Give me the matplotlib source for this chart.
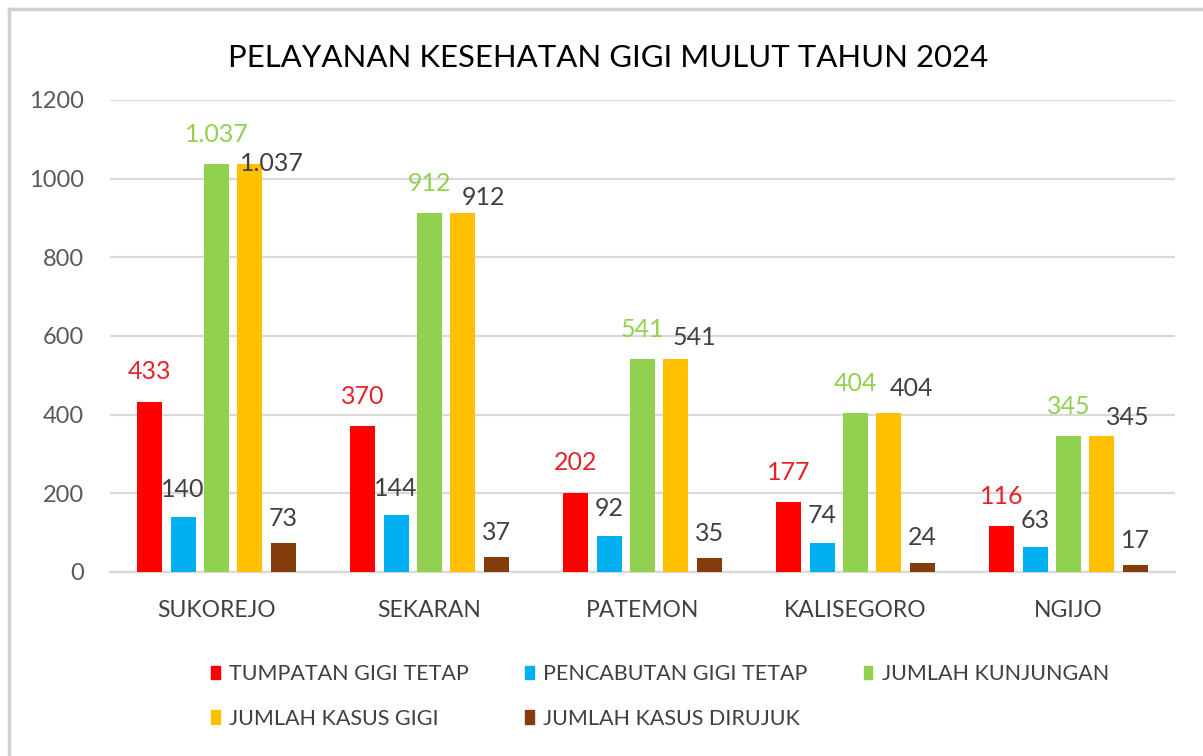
import matplotlib
matplotlib.use("Agg")
import matplotlib.pyplot as plt
import numpy as np
from matplotlib.patches import Rectangle
from matplotlib.lines import Line2D

categories = ["SUKOREJO", "SEKARAN", "PATEMON", "KALISEGORO", "NGIJO"]
series_names = ["TUMPATAN GIGI TETAP", "PENCABUTAN GIGI TETAP", "JUMLAH KUNJUNGAN",
                "JUMLAH KASUS GIGI", "JUMLAH KASUS DIRUJUK"]
tumpatan = [433, 370, 202, 177, 116]
pencabutan = [140, 144, 92, 74, 63]
kunjungan = [1037, 912, 541, 404, 345]
kasus_gigi = [1037, 912, 541, 404, 345]
dirujuk = [73, 37, 35, 24, 17]
yticks = [0, 200, 400, 600, 800, 1000, 1200]
title = "PELAYANAN KESEHATAN GIGI MULUT TAHUN 2024"

colors = ["#FF0000", "#00B0F0", "#92D050", "#FFC000", "#843C0C"]
label_colors = ["#E5232B", "#404040", "#92D050", "#404040", "#404040"]
# label offsets in pixels (style): per series, with per-category tweaks for yellow labels
label_dx = [[0]*5, [0]*5, [0]*5, [22, 21, 19, 23, 26], [0]*5]
label_dy = [[30]*5, [27]*5, [30]*5, [1, 16, 22, 25, 19], [25]*5]

def fmt(v):
    return f"{v:,}".replace(",", ".")

plt.rcParams['font.family'] = ['Lato', 'DejaVu Sans']
fig = plt.figure(figsize=(12.03, 7.56), dpi=100)
ax = fig.add_axes([110/1203, 1-572/756, (1175-110)/1203, (572-100)/756])

data = [tumpatan, pencabutan, kunjungan, kasus_gigi, dirujuk]
x = np.arange(len(categories))
pitch = 33/211
width = 25/211
pt = 72/100
for i, (vals, c) in enumerate(zip(data, colors)):
    xs = x + (i - 2) * pitch
    ax.bar(xs, vals, width=width, color=c, zorder=3, label=series_names[i])
    for j, (xi, v) in enumerate(zip(xs, vals)):
        ax.annotate(fmt(v), (xi, v), xytext=(label_dx[i][j]*pt, label_dy[i][j]*pt),
                    textcoords="offset points", ha="center", va="center",
                    fontsize=18, color=label_colors[i], zorder=4)

ax.set_xlim(-0.5, len(categories) - 0.5)
ax.set_ylim(0, 1200)
ax.set_yticks(yticks)
ax.set_yticklabels([str(t) for t in yticks])
ax.set_xticks(x)
ax.set_xticklabels(categories)
ax.tick_params(axis='y', length=0, pad=18.5, labelsize=17, labelcolor="#595959")
ax.tick_params(axis='x', length=0, pad=20, labelsize=16.5, labelcolor="#404040")
ax.grid(axis='y', color="#D9D9D9", linewidth=1.6, zorder=0)
for s in ["top", "right", "left"]:
    ax.spines[s].set_visible(False)
ax.spines["bottom"].set_color("#D9D9D9")
ax.spines["bottom"].set_linewidth(1.6)

fig.text(608/1203, 1-58/756, title, ha="center", va="center", fontsize=22.4, color="#000000")

order = [0, 3, 1, 4, 2]
handles = [Rectangle((0, 0), 1, 1, color=colors[k]) for k in order]
labels = [series_names[k] for k in order]
leg = fig.legend(handles, labels, ncol=3, loc="upper left",
                 bbox_to_anchor=(211/1203, 1-664/756), frameon=False,
                 fontsize=15.5, labelcolor="#404040", handlelength=0.4, handleheight=0.6,
                 handletextpad=0.45, columnspacing=2.6, labelspacing=1.14,
                 borderaxespad=0, borderpad=0)

# outer border (left and top only visible)
fig.add_artist(Line2D([8.5/1203, 8.5/1203], [0, 1-8.5/756], color="#D0D0D0", linewidth=2.5,
                      transform=fig.transFigure))
fig.add_artist(Line2D([8.5/1203, 1], [1-8.5/756, 1-8.5/756], color="#D0D0D0", linewidth=2.5,
                      transform=fig.transFigure))

fig.savefig("out.png", dpi=100, facecolor="white")
